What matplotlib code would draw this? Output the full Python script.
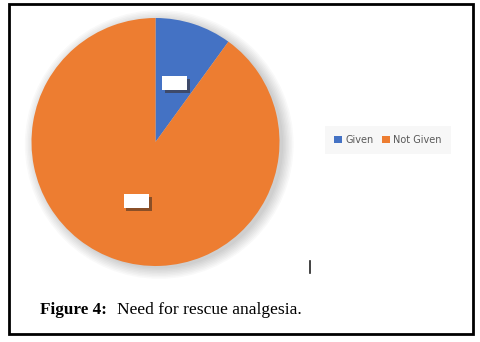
import matplotlib
matplotlib.use("Agg")
import matplotlib.pyplot as plt
import matplotlib.patheffects as pe
from matplotlib.patches import Rectangle, Circle
from matplotlib.lines import Line2D

# slices
labels = ["Given", "Not Given"]
values = [10, 90]
colors = ["#4472c4", "#ed7d31"]

W, H = 481, 342
fig = plt.figure(figsize=(W / 100, H / 100), dpi=100)

def fx(px):
    return px / W

def fy(py):
    return 1 - py / H

# pie axes: centre (155.5, 142) px, radius 124 px, limits +-1.15
cx, cy, r = 155.5, 142, 124
lim = 1.15
half = r * lim
ax = fig.add_axes([fx(cx - half), fy(cy + half), 2 * half / W, 2 * half / H])
ax.axis("off")

# soft glow behind the pie
for k in range(8):
    ax.add_patch(Circle((0.03, -0.02), 1.0 + 0.012 * k, color="#000000",
                        alpha=0.025, lw=0, zorder=0))

wedges, texts, autotexts = ax.pie(
    values, colors=colors, startangle=90, counterclock=False,
    autopct="%d%%", pctdistance=0.5, radius=1.0,
    wedgeprops=dict(linewidth=0),
    textprops=dict(color="white", fontsize=6.5),
)
ax.set_xlim(-lim, lim)
ax.set_ylim(-lim, lim)
ax.set_aspect("equal")
for t in autotexts:
    t.set_bbox(dict(boxstyle="square,pad=0.3", facecolor="white",
                    edgecolor="none"))
    t.get_bbox_patch().set_path_effects([
        pe.SimplePatchShadow(offset=(2, -2), shadow_rgbFace="#3a2a20", alpha=0.55),
        pe.Normal(),
    ])

# legend
leg = fig.legend(
    wedges, labels, ncol=2, loc="center",
    bbox_to_anchor=(fx(388), fy(140)),
    fontsize=7, frameon=True, handlelength=0.8, handleheight=0.8,
    handletextpad=0.4, columnspacing=0.8, borderpad=0.9,
    fancybox=False,
)
leg.get_frame().set_facecolor("#f6f6f6")
leg.get_frame().set_edgecolor("none")
for t in leg.get_texts():
    t.set_color("#595959")

# outer frame
fig.add_artist(Rectangle((fx(8.5), fy(334)), fx(473) - fx(8.5), fy(4) - fy(334),
                         transform=fig.transFigure, fill=False,
                         edgecolor="black", linewidth=2))

# stray cursor mark
fig.add_artist(Line2D([fx(310), fx(310)], [fy(261), fy(273)],
                      transform=fig.transFigure, color="#222222", linewidth=1.2))

# caption
fig.text(fx(40.5), fy(314), "Figure 4:", fontsize=12.3, fontweight="bold",
         family="Liberation Serif", va="baseline", ha="left")
fig.text(fx(117), fy(314), "Need for rescue analgesia.", fontsize=12.6,
         family="Liberation Serif", va="baseline", ha="left")

fig.savefig("out.png", dpi=100)
